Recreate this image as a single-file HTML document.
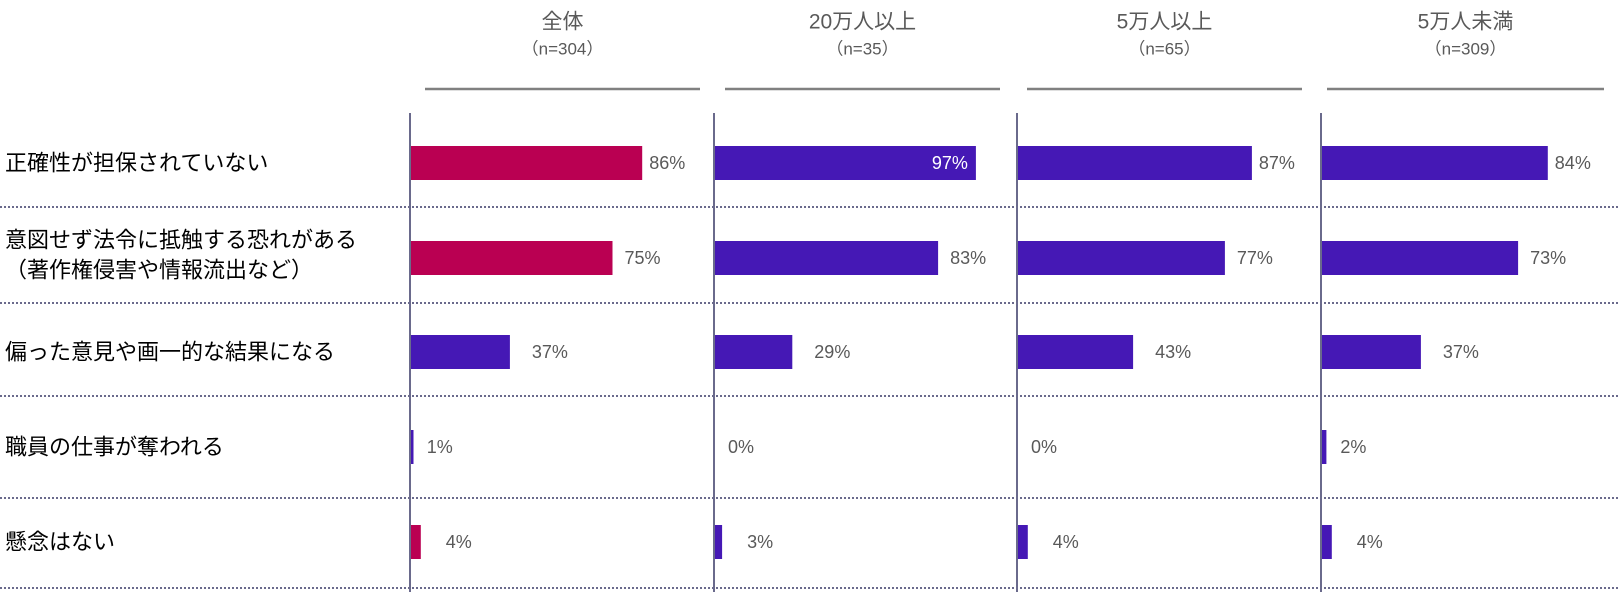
<!DOCTYPE html>
<html><head><meta charset="utf-8"><style>
html,body{margin:0;padding:0;background:#fff;}
svg{display:block;font-family:"Liberation Sans","Noto Sans CJK JP",sans-serif;}
</style></head><body>
<svg id="chart" width="1620" height="592" viewBox="0 0 1620 592" xmlns="http://www.w3.org/2000/svg"></svg>
<script>
const categories = ["正確性が担保されていない", "意図せず法令に抵触する恐れがある|（著作権侵害や情報流出など）", "偏った意見や画一的な結果になる", "職員の仕事が奪われる", "懸念はない"];
const panelTitles = ["全体", "20万人以上", "5万人以上", "5万人未満"];
const panelCounts = ["（n=304）", "（n=35）", "（n=65）", "（n=309）"];
const valuesAll = [86, 75, 37, 1, 4];
const values20man = [97, 83, 29, 0, 3];
const values5man = [87, 77, 43, 0, 4];
const valuesUnder5man = [84, 73, 37, 2, 4];
const highlightAll = [true, true, false, false, true];

const series = [valuesAll, values20man, values5man, valuesUnder5man];
const svg = document.getElementById('chart');
const NS = 'http://www.w3.org/2000/svg';
const axisX = [410, 714, 1017, 1321];
const headerLine = [[425,700],[725,1000],[1027,1302],[1327,1604]];
const rowCenter = [163, 258, 352, 447, 542];
const separators = [207, 303, 396, 498, 588];
const labelGap = [7, 12, 22, 14, 25];
const pxPerPct = 2.70;
const barH = 34;
function xScale(p, v){ return axisX[p] + v * pxPerPct; }
function mk(tag, attrs){ const e = document.createElementNS(NS, tag); for (const k in attrs) e.setAttribute(k, attrs[k]); svg.appendChild(e); return e; }

// separators
separators.forEach((y, i) => {
  const l = mk('line', {x1:0, x2:1620, y1:y, y2:y, stroke:'#6a6a8c', 'stroke-width':2, 'stroke-dasharray':'2 2'});
  
  
});
// category labels
categories.forEach((c, i) => {
  const lines = c.split('|');
  lines.forEach((t, j) => {
    const y = rowCenter[i] + (lines.length === 1 ? 0 : (j === 0 ? -18 : 12));
    const tx = mk('text', {x:5, y:y, 'font-size':22, fill:'#000', 'dominant-baseline':'central'});
    tx.textContent = t;
    
    
  });
});
// panels
panelTitles.forEach((t, p) => {
  const cx = (headerLine[p][0] + headerLine[p][1]) / 2;
  const ti = mk('text', {x:cx, y:22, 'font-size':21, fill:'#595959', 'text-anchor':'middle', 'dominant-baseline':'central'});
  ti.textContent = t;
  
  
  const ni = mk('text', {x:cx, y:49, 'font-size':17, fill:'#595959', 'text-anchor':'middle', 'dominant-baseline':'central'});
  ni.textContent = panelCounts[p];
  
  
  const hl = mk('line', {x1:headerLine[p][0], x2:headerLine[p][1], y1:89, y2:89, stroke:'#808080', 'stroke-width':2.5});
  
  
  const ax = mk('line', {x1:axisX[p], x2:axisX[p], y1:113, y2:592, stroke:'#6a6a8c', 'stroke-width':2});
  
  
  series[p].forEach((v, i) => {
    const x0 = axisX[p] + 1;
    const x1 = xScale(p, v);
    const color = (p === 0 && highlightAll[i]) ? '#ba0052' : '#4518b5';
    if (v > 0) {
      const r = mk('rect', {x:x0, y:rowCenter[i] - barH/2, width:Math.max(x1 - x0, 2.5), height:barH, fill:color});
      
      
    }
    let lbl;
    if (v >= 95) {
      lbl = mk('text', {x:x1 - 8, y:rowCenter[i], 'font-size':18, fill:'#fff', 'text-anchor':'end', 'dominant-baseline':'central'});
    } else {
      lbl = mk('text', {x:Math.max(x1, axisX[p]) + labelGap[i], y:rowCenter[i], 'font-size':18, fill:'#595959', 'dominant-baseline':'central'});
    }
    lbl.textContent = v + '%';
    
    
  });
});
</script>
</body></html>
